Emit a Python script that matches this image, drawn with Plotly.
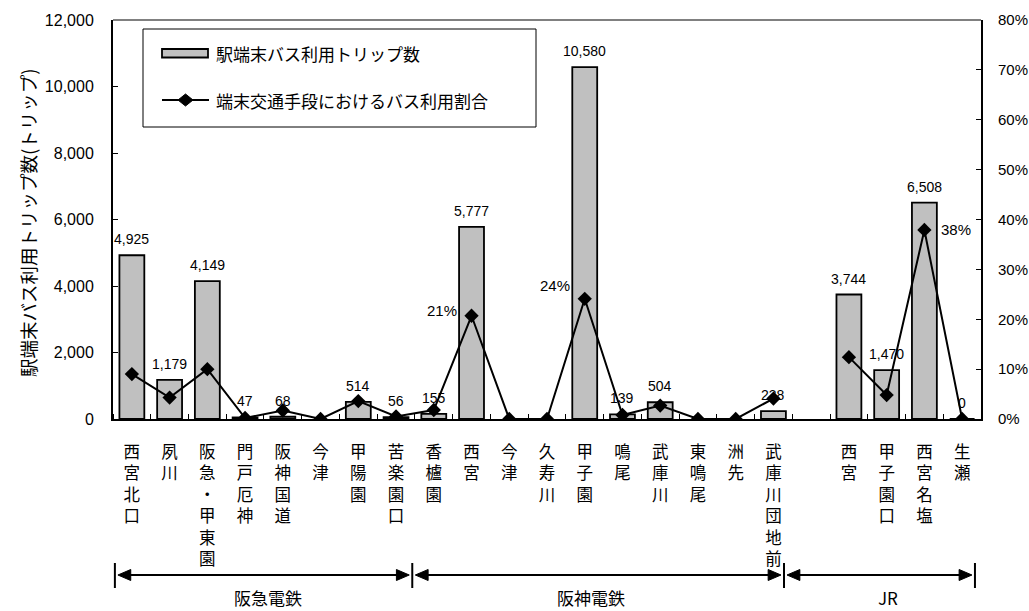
import plotly.graph_objects as go

# ---------------- data ----------------
stations = ["西宮北口", "夙川", "阪急・甲東園", "門戸厄神", "阪神国道", "今津", "甲陽園", "苦楽園口",
            "香櫨園", "西宮", "今津", "久寿川", "甲子園", "鳴尾", "武庫川", "東鳴尾", "洲先", "武庫川団地前",
            "",
            "西宮", "甲子園口", "西宮名塩", "生瀬"]
trips = [4925, 1179, 4149, 47, 68, None, 514, 56,
         155, 5777, None, None, 10580, 139, 504, None, None, 238,
         None,
         3744, 1470, 6508, 0]
bus_share = [9.0, 4.3, 10.0, 0.2, 1.7, 0.0, 3.6, 0.5,
             1.8, 20.7, 0.0, 0.0, 24.1, 0.8, 2.7, 0.0, 0.0, 4.1,
             None,
             12.4, 4.8, 37.9, 0.0]
share_label_idx = [9, 12, 21]
group_names = ["阪急電鉄", "阪神電鉄", "JR"]
left_ticks = [0, 2000, 4000, 6000, 8000, 10000, 12000]
right_ticks = [0, 10, 20, 30, 40, 50, 60, 70, 80]
right_tick_text = ["0%", "10%", "20%", "30%", "40%", "50%", "60%", "70%", "80%"]
series_names = ["駅端末バス利用トリップ数", "端末交通手段におけるバス利用割合"]
y_title = "駅端末バス利用トリップ数(トリップ)"

# ---------------- styling / layout constants ----------------
JP = "Noto Sans CJK JP"
NUM = "Liberation Sans"
BAR_FILL = "#C0C0C0"
x_idx = list(range(len(stations)))
tick_text = ["<br>".join(list(s)) for s in stations]
bracket_edges = [-0.45, 7.43, 17.28, 22.34]   # divider positions (x data units)
group_label_nudge = [0.12, -0.2, 0.22]
share_label_shift = [(-30, 5), (-30, 13), (32, 0)]

fig = go.Figure()

fig.add_trace(go.Bar(
    x=x_idx, y=trips, width=0.66, name=series_names[0],
    marker=dict(color=BAR_FILL, line=dict(color="black", width=1.8)),
    showlegend=False, yaxis="y",
))
fig.add_trace(go.Scatter(
    x=x_idx, y=bus_share, name=series_names[1], mode="lines+markers",
    line=dict(color="black", width=2),
    marker=dict(symbol="diamond", size=11, color="black"),
    connectgaps=False, showlegend=False, yaxis="y2",
))

annotations = []
# bar value labels
for i, v in enumerate(trips):
    if v is None:
        continue
    annotations.append(dict(x=i, y=v, xref="x", yref="y", text=f"{v:,}", showarrow=False,
                            yanchor="middle", yshift=16,
                            font=dict(family=NUM, size=14, color="black")))
# share labels
for k, i in enumerate(share_label_idx):
    dx, dy = share_label_shift[k]
    annotations.append(dict(x=i, y=bus_share[i], xref="x", yref="y2", text=f"{round(bus_share[i])}%",
                            showarrow=False, xshift=dx, yshift=dy,
                            font=dict(family=NUM, size=15, color="black")))

# plot-area pixel helpers (absolute page px -> paper)
px_w, px_h = 868.0, 399.0
def px_x(p):
    return (p - 113) / px_w
def px_y(p):
    return (419 - p) / px_h

# y axis title
annotations.append(dict(x=px_x(28), y=px_y(223), xref="paper", yref="paper", text=y_title, textangle=-90,
                        xanchor="center", yanchor="middle",
                        showarrow=False, font=dict(family=JP, size=18.5, color="black")))

# custom legend
shapes = []
shapes.append(dict(type="rect", xref="paper", yref="paper", x0=px_x(143), x1=px_x(536),
                   y0=px_y(127), y1=px_y(29), line=dict(color="black", width=1), fillcolor="white",
                   layer="above"))
shapes.append(dict(type="rect", xref="paper", yref="paper", x0=px_x(162), x1=px_x(208),
                   y0=px_y(57.5), y1=px_y(49), line=dict(color="black", width=1.8), fillcolor=BAR_FILL,
                   layer="above"))
shapes.append(dict(type="line", xref="paper", yref="paper", x0=px_x(162), x1=px_x(209),
                   y0=px_y(100), y1=px_y(100), line=dict(color="black", width=2), layer="above"))
cx, cy, hw, hh = 185.5, 100, 7.5, 6
shapes.append(dict(type="path", xref="paper", yref="paper",
                   path=(f"M {px_x(cx-hw)},{px_y(cy)} L {px_x(cx)},{px_y(cy-hh)} "
                         f"L {px_x(cx+hw)},{px_y(cy)} L {px_x(cx)},{px_y(cy+hh)} Z"),
                   fillcolor="black", line=dict(color="black", width=1), layer="above"))
annotations.append(dict(x=px_x(214), y=px_y(53), xref="paper", yref="paper", text=series_names[0],
                        xanchor="left", yanchor="middle", showarrow=False,
                        font=dict(family=JP, size=17, color="black")))
annotations.append(dict(x=px_x(214), y=px_y(100), xref="paper", yref="paper", text=series_names[1],
                        xanchor="left", yanchor="middle", showarrow=False,
                        font=dict(family=JP, size=17, color="black")))

# plot-area top border (gray)
shapes.append(dict(type="line", xref="paper", yref="paper", x0=0, x1=1, y0=1, y1=1,
                   line=dict(color="#808080", width=2)))

# group brackets with arrows
ya = px_y(575)
yv0, yv1 = px_y(563), px_y(588)
head_len = 0.34
head_h = 5.5 / px_h
gap = 0.08
for e in bracket_edges:
    shapes.append(dict(type="line", xref="x", yref="paper", x0=e, x1=e, y0=yv0, y1=yv1,
                       line=dict(color="black", width=2)))
for g in range(len(group_names)):
    a = bracket_edges[g] + gap
    b = bracket_edges[g + 1] - gap
    shapes.append(dict(type="line", xref="x", yref="paper", x0=a + head_len * 0.8, x1=b - head_len * 0.8,
                       y0=ya, y1=ya, line=dict(color="black", width=2)))
    shapes.append(dict(type="path", xref="x", yref="paper",
                       path=f"M {a},{ya} L {a+head_len},{ya+head_h} L {a+head_len},{ya-head_h} Z",
                       fillcolor="black", line=dict(color="black", width=1)))
    shapes.append(dict(type="path", xref="x", yref="paper",
                       path=f"M {b},{ya} L {b-head_len},{ya+head_h} L {b-head_len},{ya-head_h} Z",
                       fillcolor="black", line=dict(color="black", width=1)))
    annotations.append(dict(x=(bracket_edges[g] + bracket_edges[g + 1]) / 2 + group_label_nudge[g],
                            y=px_y(597.5), xref="x", yref="paper", text=group_names[g], showarrow=False,
                            yanchor="middle", font=dict(family=JP, size=17, color="black")))

fig.update_layout(
    width=1029, height=611,
    margin=dict(l=113, r=48, t=20, b=192, pad=0, autoexpand=False),
    paper_bgcolor="white", plot_bgcolor="white",
    xaxis=dict(
        range=[-0.5, len(stations) - 0.5], tickmode="array", tickvals=x_idx, ticktext=tick_text,
        ticks="", showgrid=False, zeroline=False, showline=True, linecolor="black", linewidth=2,
        tickfont=dict(family=JP, size=16.5, color="black"), ticklabelstandoff=17, automargin=False,
        minor=dict(tick0=0.5, dtick=1, ticks="inside", ticklen=5, tickcolor="black", tickwidth=1,
                   showgrid=False),
        fixedrange=True,
    ),
    yaxis=dict(
        range=[0, 12000], tickmode="array", tickvals=left_ticks, tickformat=",",
        ticks="inside", ticklen=5, tickcolor="black", showgrid=False, zeroline=False,
        showline=True, linecolor="black", linewidth=2, automargin=False,
        tickfont=dict(family=NUM, size=16, color="black"), ticklabelstandoff=14,
    ),
    yaxis2=dict(
        range=[0, 80], overlaying="y", side="right", tickmode="array", tickvals=right_ticks,
        ticktext=right_tick_text, ticks="inside", ticklen=5, tickcolor="black", showgrid=False,
        zeroline=False, showline=True, linecolor="black", linewidth=2, automargin=False,
        tickfont=dict(family=NUM, size=15, color="black"), ticklabelstandoff=12,
    ),
    shapes=shapes,
    annotations=annotations,
    showlegend=False,
)

fig.write_html("out.html", config={"displayModeBar": False},
               post_script="document.body.style.margin='0';document.body.style.overflow='hidden';")
